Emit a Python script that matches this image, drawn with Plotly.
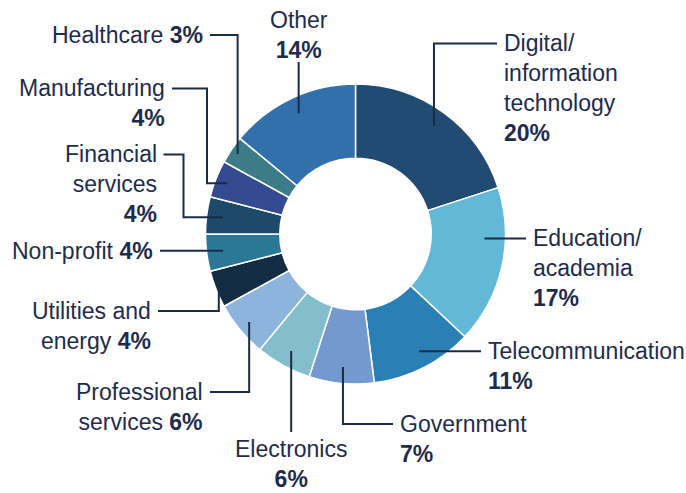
import math
import plotly.graph_objects as go

# ---- data ----
categories = ["Digital/ information technology", "Education/ academia", "Telecommunication",
              "Government", "Electronics", "Professional services", "Utilities and energy",
              "Non-profit", "Financial services", "Manufacturing", "Healthcare", "Other"]
values = [20, 17, 11, 7, 6, 6, 4, 4, 4, 4, 3, 14]
colors = ["#214B73", "#62B9D7", "#2A7FB4", "#7399CF", "#84BDCB", "#8CB4DD",
          "#142B44", "#2B7896", "#1D4A6A", "#344B92", "#3E7B89", "#3270AB"]
# label text lines (percentage appended in bold from values)
label_lines = [
    ["Digital/", "information", "technology", "{p}"],
    ["Education/", "academia", "{p}"],
    ["Telecommunication", "{p}"],
    ["Government", "{p}"],
    ["Electronics", "{p}"],
    ["Professional", "services {p}"],
    ["Utilities and", "energy {p}"],
    ["Non-profit {p}"],
    ["Financial", "services", "{p}"],
    ["Manufacturing", "{p}"],
    ["Healthcare {p}"],
    ["Other", "{p}"],
]

# ---- layout (pixel geometry) ----
W, H = 686, 493
CX, CY, R = 355.5, 234.0, 150.0
HOLE = 0.505
TXT = "#1d2c4d"
LINE = "#1a2b4a"
FS = 23
LH = FS * 1.3

# leader routes: anchor from slice mid-angle (optional override), then moves
leaders = [
    dict(r=0.89, route=[("v", 43.5), ("h", 497)], side="right"),
    dict(r=0.86, ang=92, route=[("h", 526)], side="right"),
    dict(r=0.89, ang=151.5, route=[("h", 481)], side="right"),
    dict(r=0.89, route=[("v", 424), ("h", 393)], side="right"),
    dict(r=0.89, route=[("v", 432)], side="below"),
    dict(r=0.92, route=[("v", 392), ("h", 210)], side="left"),
    dict(r=0.98, route=[("v", 311), ("h", 158)], side="left"),
    dict(r=0.89, route=[("h", 160)], side="left"),
    dict(r=0.89, route=[("h", 183.5), ("v", 154.5), ("h", 163.5)], side="left"),
    dict(r=0.92, route=[("h", 207), ("v", 88.5), ("h", 172)], side="left"),
    dict(r=0.95, route=[("v", 35), ("h", 210)], side="left"),
    dict(r=0.89, route=[("v", 62)], side="above"),
]


def px(x):
    return x / W


def py(y):
    return 1 - y / H


fig = go.Figure(go.Pie(
    labels=categories, values=values, sort=False, direction="clockwise", rotation=0,
    hole=HOLE, marker=dict(colors=colors, line=dict(color="white", width=1.5)),
    textinfo="none", showlegend=False, hoverinfo="label+percent",
    domain=dict(x=[px(CX - R), px(CX + R)], y=[py(CY + R), py(CY - R)]),
))

total = sum(values)
cum = 0
shapes, annots = [], []
for i, v in enumerate(values):
    mid = (cum + v / 2) / total * 360
    cum += v
    L = leaders[i]
    ang = math.radians(L.get("ang", mid))
    r = L["r"] * R
    x, y = CX + r * math.sin(ang), CY - r * math.cos(ang)
    pts = [(x, y)]
    for kind, val in L["route"]:
        if kind == "v":
            y = val
        else:
            x = val
        pts.append((x, y))
    path = "M " + " L ".join(f"{px(a):.5f},{py(b):.5f}" for a, b in pts)
    shapes.append(dict(type="path", path=path, xref="paper", yref="paper",
                       line=dict(color=LINE, width=2)))
    lines = [s.replace("{p}", f"<b>{v}%</b>") for s in label_lines[i]]
    n = len(lines)
    ex, ey = pts[-1]
    side = L["side"]
    if side == "right":
        tx, first, xa, al = ex + 5, ey, "left", "left"
    elif side == "left":
        tx, first, xa, al = ex - 5, ey, "right", "right"
    elif side == "below":
        tx, first, xa, al = ex, ey + 17, "center", "center"
    else:
        tx, first, xa, al = ex, ey - 42, "center", "center"
    cyb = first + (n - 1) * LH / 2
    annots.append(dict(x=px(tx), y=py(cyb), xref="paper", yref="paper",
                       text="<br>".join(lines), showarrow=False, xanchor=xa,
                       yanchor="middle", align=al,
                       font=dict(family="Liberation Sans, Arial, sans-serif", size=FS, color=TXT)))

fig.update_layout(width=W, height=H, margin=dict(l=0, r=0, t=0, b=0),
                  paper_bgcolor="white", plot_bgcolor="white",
                  shapes=shapes, annotations=annots)
fig.write_html("out.html", config={"displayModeBar": False},
               post_script="document.body.style.margin='0';document.body.style.overflow='hidden';")
